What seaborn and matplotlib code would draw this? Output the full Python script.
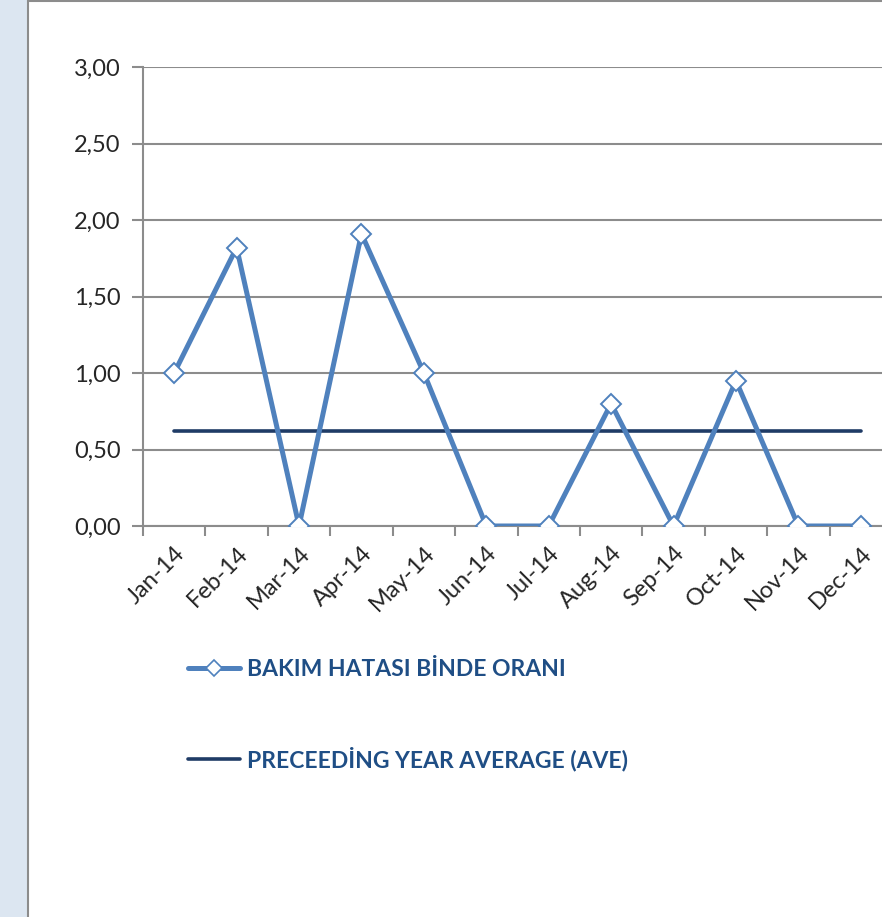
import matplotlib
matplotlib.use("Agg")
import matplotlib.pyplot as plt
import matplotlib.patches as mpatches
from matplotlib.lines import Line2D
from matplotlib.ticker import FuncFormatter
import numpy as np
import pandas as pd
import seaborn as sns

months=['Jan-14','Feb-14','Mar-14','Apr-14','May-14','Jun-14','Jul-14','Aug-14','Sep-14','Oct-14','Nov-14','Dec-14']
rate=[1.00,1.82,0.00,1.91,1.00,0.00,0.00,0.80,0.00,0.95,0.00,0.00]
prev_avg=[0.62]*12
series_names=['BAKIM HATASI BİNDE ORANI','PRECEEDİNG YEAR AVERAGE (AVE)']

df=pd.DataFrame({'x':np.arange(len(months)),'rate':rate,'avg':prev_avg})

sns.set_style('white')
plt.rcParams['font.family']=['Lato','DejaVu Sans']

blue='#4F81BD'
navy='#1F3B66'
grid='#8C8C8C'

fig=plt.figure(figsize=(8.82,9.17),dpi=100)
# frame bits: light blue strip + grey borders
fig.patches.append(mpatches.Rectangle((0,0),27/882,1,transform=fig.transFigure,color='#DCE6F1',zorder=0))
fig.add_artist(Line2D([28/882,28/882],[0,1],transform=fig.transFigure,color=grid,lw=1.5))
fig.add_artist(Line2D([28/882,1],[1-1/917,1-1/917],transform=fig.transFigure,color=grid,lw=1.5))

ax=fig.add_axes([143/882,(917-526)/917,749/882,459/917])
ax.set_facecolor('none')

sns.lineplot(data=df,x='x',y='avg',ax=ax,color=navy,linewidth=2.6,zorder=3)
sns.lineplot(data=df,x='x',y='rate',ax=ax,color=blue,linewidth=3.6,marker='D',markersize=10,
             markerfacecolor='white',markeredgecolor=blue,markeredgewidth=1.4,zorder=4)

ax.set_xlim(-0.5,11.5)
ax.set_ylim(0,3)
ax.set_yticks(np.arange(0,3.01,0.5))
ax.yaxis.set_major_formatter(FuncFormatter(lambda v,p:f'{v:.2f}'.replace('.',',')))
ax.set_xticks(np.arange(12))
ax.set_xticklabels(months,rotation=45,ha='right',rotation_mode='anchor')
ax.set_xticks(np.arange(-0.5,12,1),minor=True)
ax.tick_params(axis='x',which='major',length=0,labelsize=17,pad=12)
ax.tick_params(axis='x',which='minor',length=7,width=1.5,color=grid,direction='out',bottom=True)
ax.tick_params(axis='y',length=8,width=1.5,color=grid,labelsize=17,pad=8,left=True)
ax.grid(axis='y',color=grid,linewidth=1.5)
ax.set_axisbelow(True)
for s in ['top','right']:
    ax.spines[s].set_visible(False)
ax.spines['left'].set_color(grid)
ax.spines['left'].set_linewidth(1.5)
ax.spines['bottom'].set_color(grid)
ax.spines['bottom'].set_linewidth(1.5)
ax.set_xlabel('')
ax.set_ylabel('')

handles=[Line2D([],[],color=blue,lw=3.6,marker='D',markersize=8,markerfacecolor='white',markeredgecolor=blue,markeredgewidth=1.2),
         Line2D([],[],color=navy,lw=2.6)]
leg=fig.legend(handles,series_names,loc='upper left',bbox_to_anchor=(167/882,1-638/917),frameon=False,
               prop={'weight':'bold','size':16.5},handlelength=2.3,handletextpad=0.3,labelspacing=2.93)
for t in leg.get_texts():
    t.set_color('#1F4E85')

fig.savefig('out.png',dpi=100)
